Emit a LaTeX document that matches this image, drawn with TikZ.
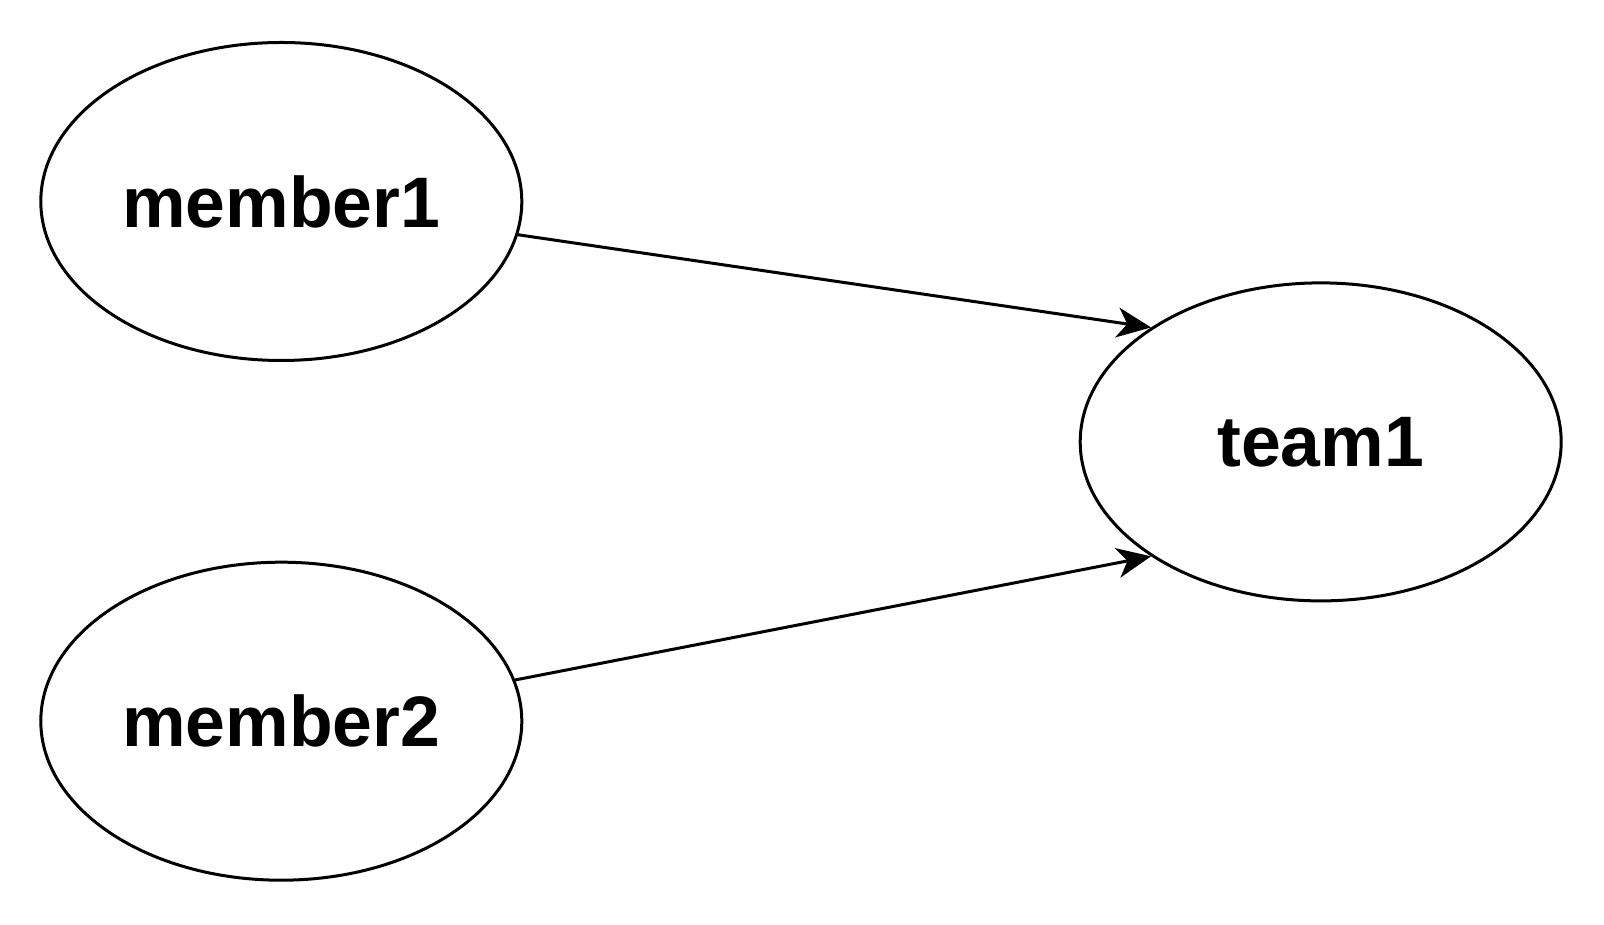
\documentclass[tikz,border=0pt]{standalone}
\usepackage{fontspec}
\setmainfont{Liberation Sans}
\usetikzlibrary{shapes.geometric,arrows.meta}
\begin{document}
\begin{tikzpicture}[x=1pt,y=1pt,
  ell/.style={ellipse,draw,line width=3pt,inner sep=0pt,minimum width=481pt,minimum height=318pt,font=\fontsize{71.5}{80}\selectfont\bfseries},
  conn/.style={line width=3pt,-{Stealth[length=34pt,width=30pt,inset=10pt]}}]
\useasboundingbox (0,0) rectangle (1604,924);
\node[ell] (m1) at (281.3,722.5) {member1};
\node[ell] (m2) at (281.3,202.8) {member2};
\node[ell] (t1) at (1320.7,482.1) {team1};
\draw[conn] (m1.-8.1) -- (t1.146);
\draw[conn] (m2.10.7) -- (t1.214.2);
\end{tikzpicture}
\end{document}
